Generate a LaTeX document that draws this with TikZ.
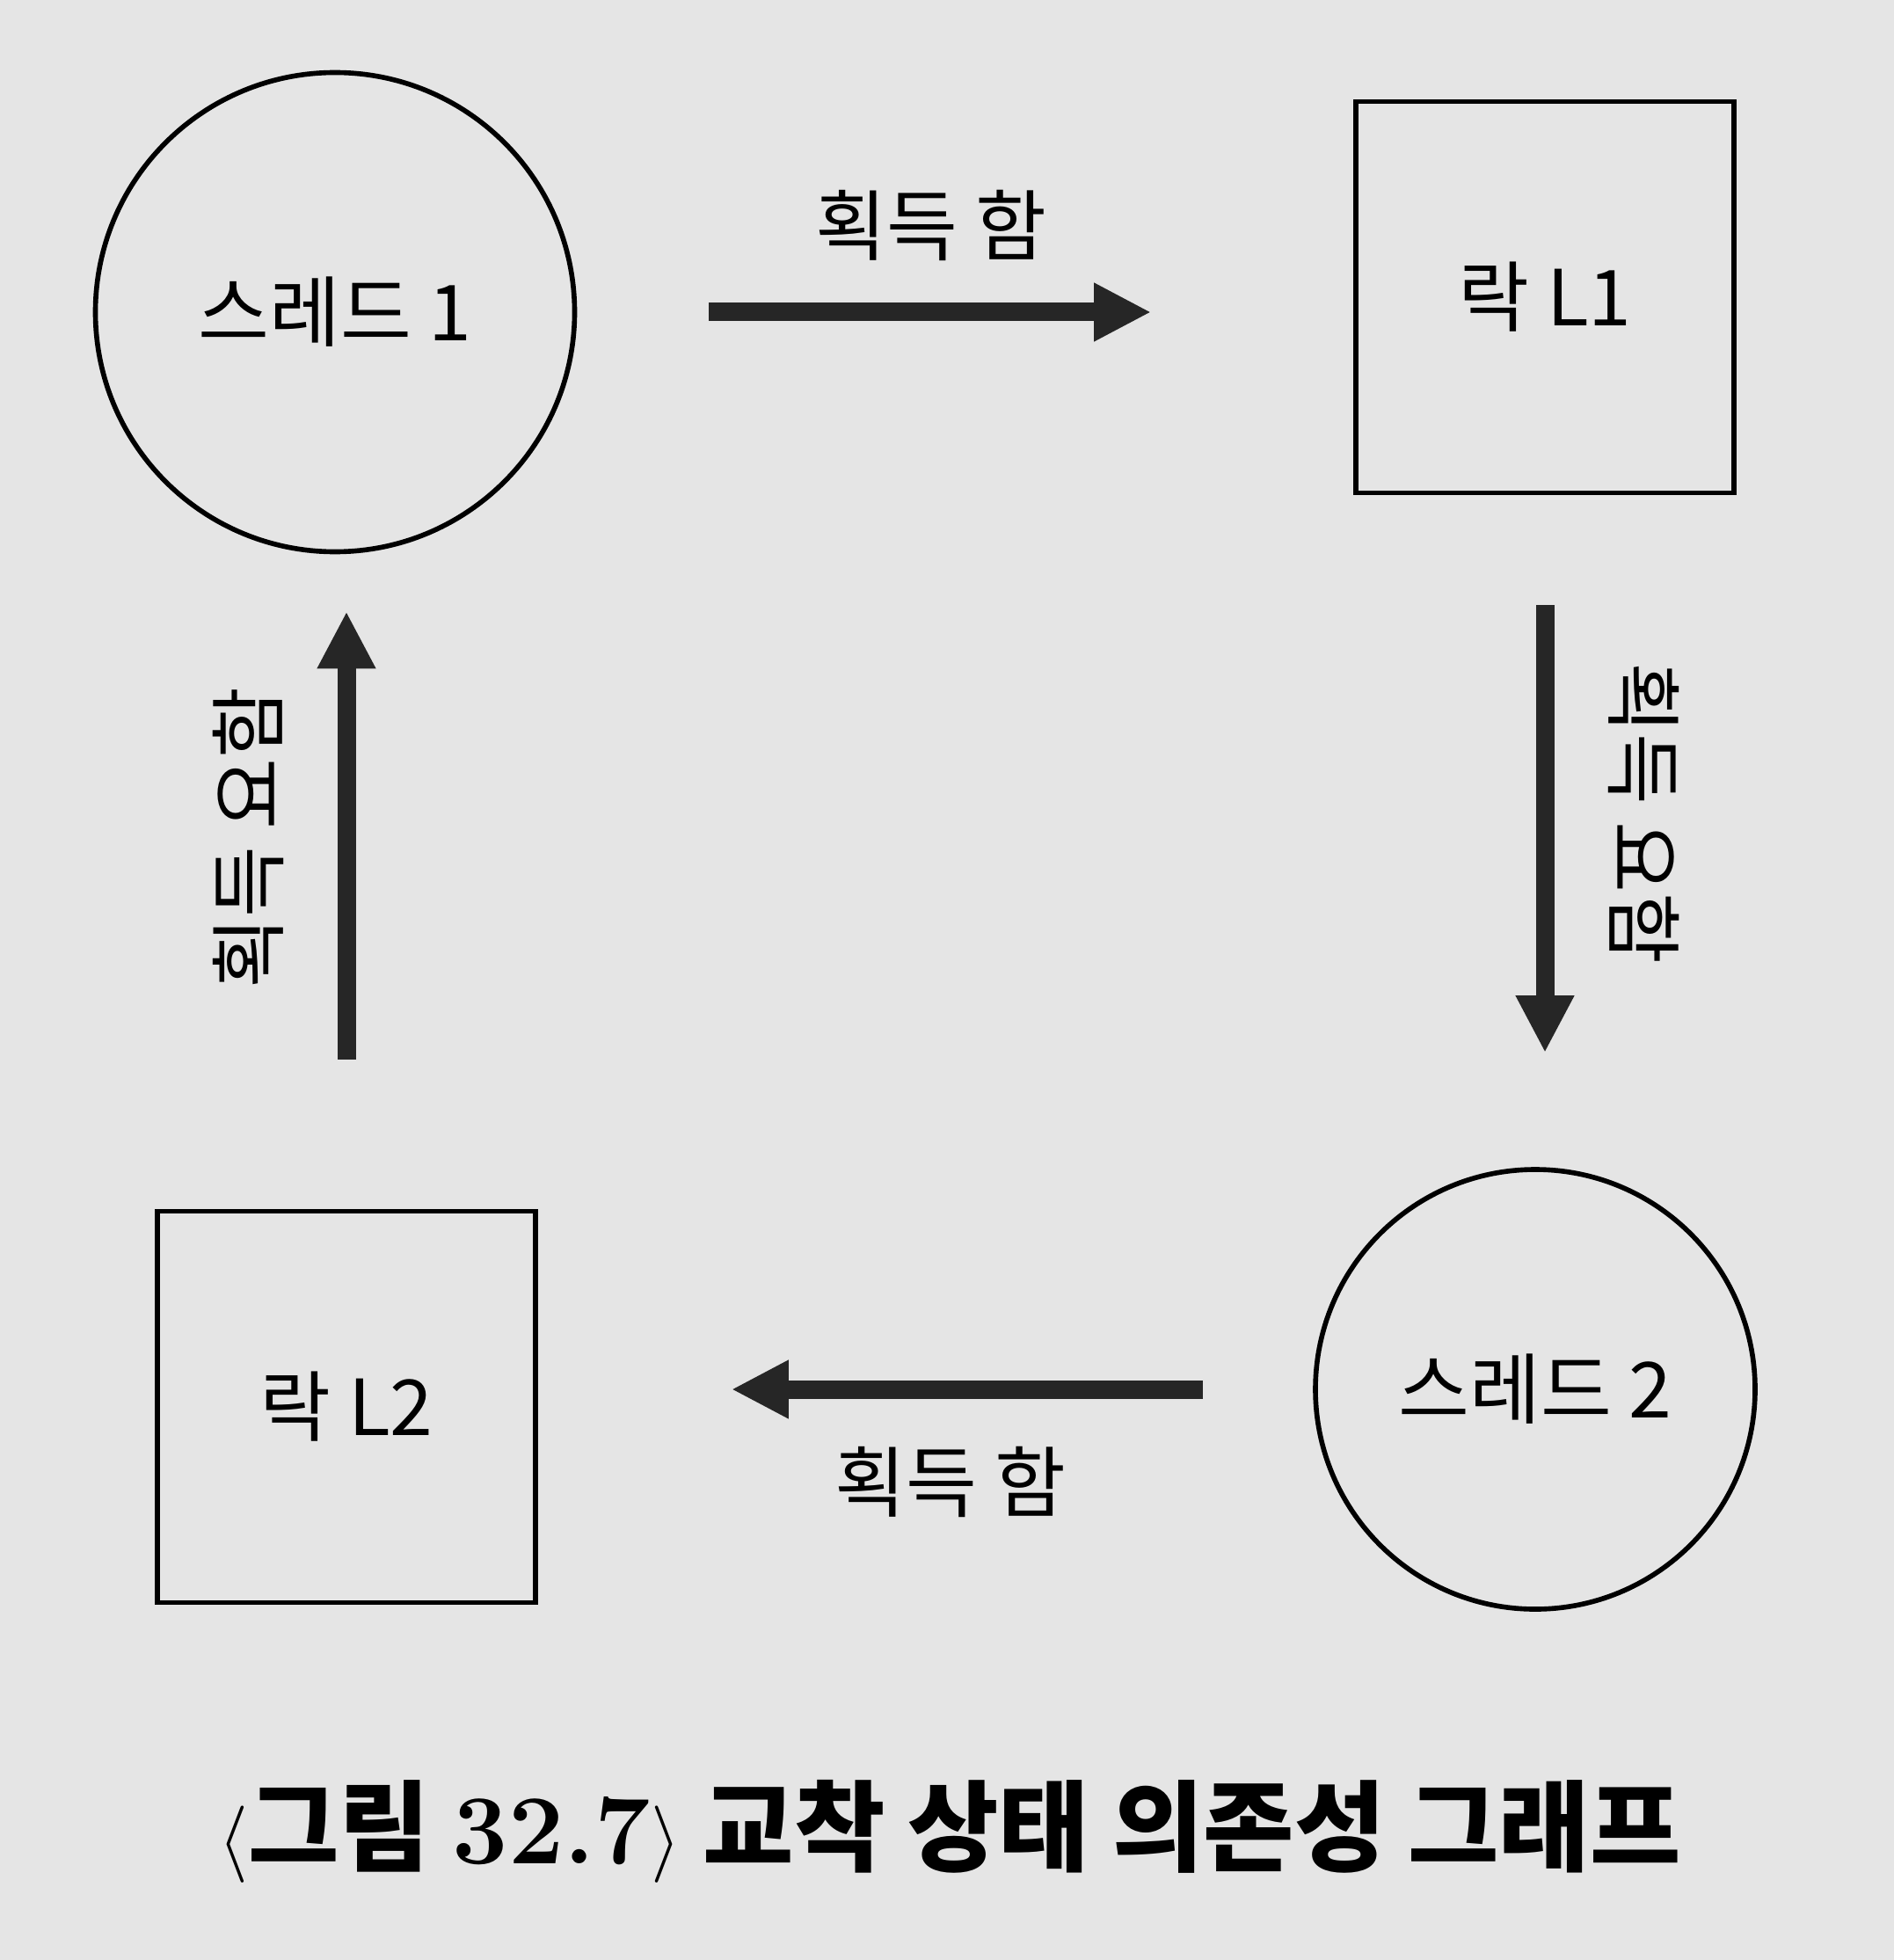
\documentclass[tikz,border=0pt]{standalone}
\usepackage{fontspec}
\newfontfamily\kr{Noto Sans CJK KR}
\usetikzlibrary{arrows.meta}

\begin{document}
\begin{tikzpicture}[
        thread/.style={draw, circle, line width=1.6pt, minimum size=5.45cm, font=\kr\fontsize{25}{30}\selectfont},
        lock/.style={draw, rectangle, line width=1.6pt, minimum width=4.3cm, minimum height=4.45cm, font=\kr\fontsize{25}{30}\selectfont},
        arr/.style={-{Triangle[length=0.65cm, width=0.62cm]}, line width=0.21cm, draw=black!85},
        lbl/.style={font=\kr\fontsize{25}{30}\selectfont}]

        \useasboundingbox[fill=black!10] (0,0) rectangle (21.54,-22.29);

        \node[thread] (t1) at (3.81, -3.55)  {스레드 1};
        \node[lock]   (l1) at (17.57, -3.38) {락 L1};
        \node[thread, minimum size=5.0cm] (t2) at (17.46, -15.8) {스레드 2};
        \node[lock]   (l2) at (3.94, -16.0)  {락 L2};

        \draw[arr, shorten <=1.5cm, shorten >=2.3cm] (t1.east) -- (t1.east -| l1.west);
        \draw[arr, shorten <=1.25cm, shorten >=1.3cm] (l1.south) -- (l1.south |- t2.north);
        \draw[arr, shorten <=1.25cm, shorten >=2.2cm] (t2.west) -- (t2.west -| l2.east);
        \draw[arr, shorten <=1.7cm, shorten >=0.65cm] (l2.north) -- (l2.north |- t1.south);

        \node[lbl] (a1) at (10.59, -2.56) {획득 함};
        \node[lbl, rotate=-90] (a2) at (18.70, -9.25) {획득 요함};
        \node[lbl] (a3) at (10.81, -16.85) {획득 함};
        \node[lbl, rotate=90] (a4) at (2.82, -9.53) {획득 요함};

        \node[font=\kr\bfseries\fontsize{32}{36}\selectfont] (cap) at (10.8, -20.83) {{\rmfamily\mdseries$\Big\langle$}그림 {\rmfamily 32.7}{\rmfamily\mdseries$\Big\rangle$} 교착 상태 의존성 그래프};

    \end{tikzpicture}
\end{document}
